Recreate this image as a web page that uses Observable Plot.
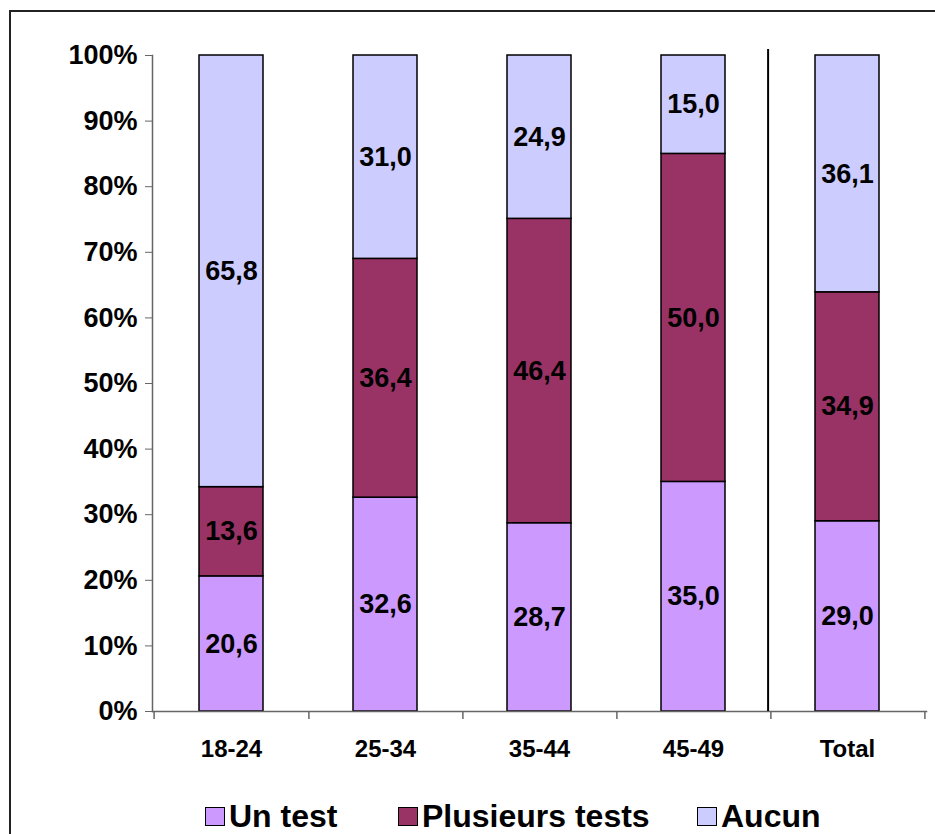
<!DOCTYPE html>
<html><head><meta charset="utf-8">
<script src="https://cdn.jsdelivr.net/npm/d3@7"></script>
<script src="https://cdn.jsdelivr.net/npm/@observablehq/plot@0.6"></script>
<style>
body{margin:0;width:935px;height:834px;overflow:hidden;background:#fff;font-family:"Liberation Sans",Arial,sans-serif;position:relative}
#frame{position:absolute;left:9px;top:10px;width:1000px;height:1000px;border:2px solid #222;box-sizing:border-box}
#chart{position:absolute;left:0;top:0}
.item{position:absolute;top:797px;display:flex;align-items:center;font-weight:bold;font-size:32px;color:#000;line-height:38px;white-space:nowrap}
.sw{width:18px;height:17px;border:1.5px solid #000;margin-right:4px}
</style></head><body>
<div id="frame"></div><div id="chart"></div><div id="legend"></div>
<script>
const categories = ["18-24","25-34","35-44","45-49","Total"];
const series = ["Un test","Plusieurs tests","Aucun"];
const unTest = [20.6,32.6,28.7,35.0,29.0];
const plusieursTests = [13.6,36.4,46.4,50.0,34.9];
const aucun = [65.8,31.0,24.9,15.0,36.1];
const colors = ["#CC99FF","#993366","#CCCCFF"];
const yTicks = [0,10,20,30,40,50,60,70,80,90,100];

const seriesValues = [unTest, plusieursTests, aucun];
const data = [];
series.forEach((s, si) => categories.forEach((c, ci) => data.push({cat: c, series: s, value: seriesValues[si][ci]})));
const fmt = v => v.toFixed(1).replace(".", ",");

const W = 935, H = 790, ML = 152, MR = 9, MT = 55, MB = 79;
const step = (W - ML - MR) / categories.length;

const chart = Plot.plot({
  width: W, height: H,
  marginLeft: ML, marginRight: MR, marginTop: MT, marginBottom: MB,
  style: {fontFamily: "Liberation Sans, Arial, sans-serif", background: "transparent"},
  x: {domain: categories, paddingInner: 0.585, paddingOuter: 0.2925, axis: null, label: null},
  y: {domain: [0, 100], axis: null, label: null},
  color: {domain: series, range: colors},
  marks: [
    Plot.barY(data, {x: "cat", y: "value", fill: "series", stroke: "#000", strokeWidth: 1.5}),
    Plot.text(data, Plot.stackY({x: "cat", y: "value", z: "series", text: d => fmt(d.value), fontSize: 27, fontWeight: "bold", fill: "#000"})),
    Plot.frame({anchor: "left", stroke: "#666", strokeWidth: 1.5}),
    Plot.frame({anchor: "bottom", stroke: "#666", strokeWidth: 1.5}),
    Plot.axisY(yTicks, {tickFormat: d => d + "%", tickSize: 7, tickPadding: 8, fontSize: 27, fontWeight: "bold", stroke: "#666", fill: "#000", label: null}),
    Plot.axisX({tickSize: 0, tickPadding: 28, fontSize: 24, fontWeight: "bold", fill: "#000", label: null}),
    Plot.ruleX(categories, {x: d => d, dx: step / 2, y1: 0, y2: 0, insetBottom: -8, stroke: "#666", strokeWidth: 1.5}),
    Plot.ruleX([categories[0]], {x: d => d, dx: -step / 2, y1: 0, y2: 0, insetBottom: -8, stroke: "#666", strokeWidth: 1.5}),
    Plot.ruleX([categories[4]], {x: d => d, dx: -step / 2 - 2, y1: 100, y2: 0, insetTop: -6, stroke: "#000", strokeWidth: 2})
  ]
});
document.getElementById("chart").appendChild(chart);

const legendX = [205, 398, 697];
const legend = document.getElementById("legend");
series.forEach((s, i) => {
  const it = document.createElement("div");
  it.className = "item";
  it.style.left = legendX[i] + "px";
  const sw = document.createElement("div");
  sw.className = "sw";
  sw.style.background = colors[i];
  const t = document.createElement("span");
  t.textContent = s;
  it.appendChild(sw); it.appendChild(t);
  legend.appendChild(it);
});
</script>
</body></html>
